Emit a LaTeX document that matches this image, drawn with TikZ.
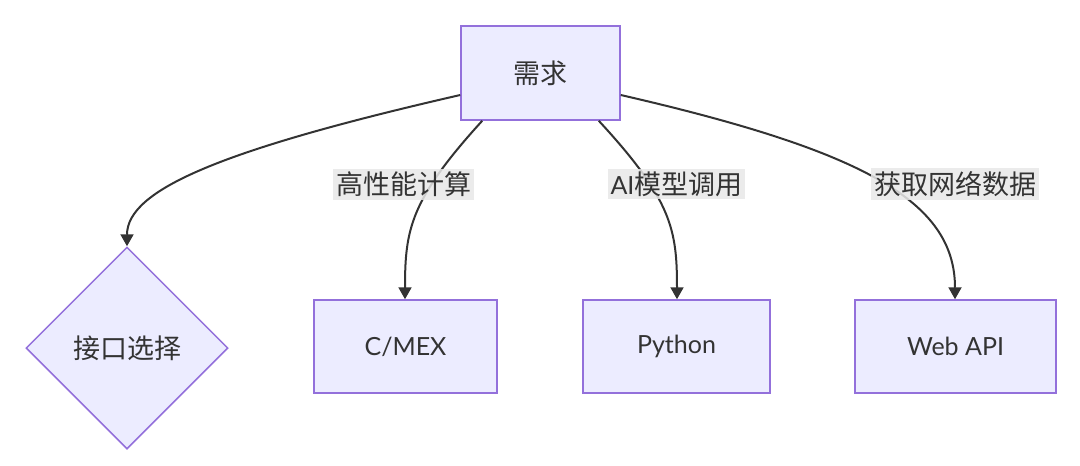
\documentclass[tikz,border=0pt]{standalone}
\usepackage{fontspec}
\usepackage{tikz}
\usetikzlibrary{shapes.geometric, arrows.meta}
\setmainfont{Lato}
\newfontfamily\cjk[Scale=1.08]{Noto Sans CJK SC}
\definecolor{boxfill}{HTML}{ECECFF}
\definecolor{boxline}{HTML}{9370DB}
\definecolor{ink}{HTML}{333333}
\definecolor{lblfill}{HTML}{E8E8E8}
\tikzset{
  box/.style={draw=boxline, fill=boxfill, line width=1.5pt, text=ink,
    inner sep=0pt, font=\fontsize{25}{29}\selectfont},
  choice/.style={box, diamond, aspect=1, minimum width=202pt, minimum height=202pt},
  edge/.style={draw=ink, line width=2pt, -{Triangle[length=12pt,width=13pt]}},
  lbl/.style={fill=lblfill, fill opacity=0.85, text opacity=1, text=ink,
    inner sep=3pt, font=\fontsize{25}{29}\selectfont}
}

\begin{document}
\begin{tikzpicture}[x=1pt, y=-1pt]
    \useasboundingbox (0,0) rectangle (1080,466);

    % Top node
    \node[box, minimum width=159pt, minimum height=94pt] (need) at (540.5,73) {\cjk 需求};

    % Targets
    \node[choice] (choose) at (127,348) {\cjk 接口选择};
    \node[box, minimum width=183pt, minimum height=93pt] (cmex) at (405.5,346.5) {C/MEX};
    \node[box, minimum width=187pt, minimum height=93pt] (python) at (676.5,346.5) {Python};
    \node[box, minimum width=201pt, minimum height=93pt] (web) at (955.5,346.5) {Web API};

    % Edges
    \draw[edge] ([yshift=-22pt]need.west) .. controls (220,150) and (127,190) .. (choose.north);
    \draw[edge] ([xshift=22pt]need.south west) .. controls (410,200) and (405,230) .. ([xshift=-0.5pt]cmex.north);
    \draw[edge] ([xshift=-22pt]need.south east) .. controls (672,200) and (677,230) .. ([xshift=0.5pt]python.north);
    \draw[edge] ([yshift=-22pt]need.east) .. controls (860,150) and (955,200) .. ([xshift=-0.5pt]web.north);

    % Edge labels
    \node[lbl] (l1) at (403.5,184) {\cjk 高性能计算};
    \node[lbl] (l2) at (676.5,184) {AI{\cjk 模型调用}};
    \node[lbl] (l3) at (955,184) {\cjk 获取网络数据};
\end{tikzpicture}
\end{document}
